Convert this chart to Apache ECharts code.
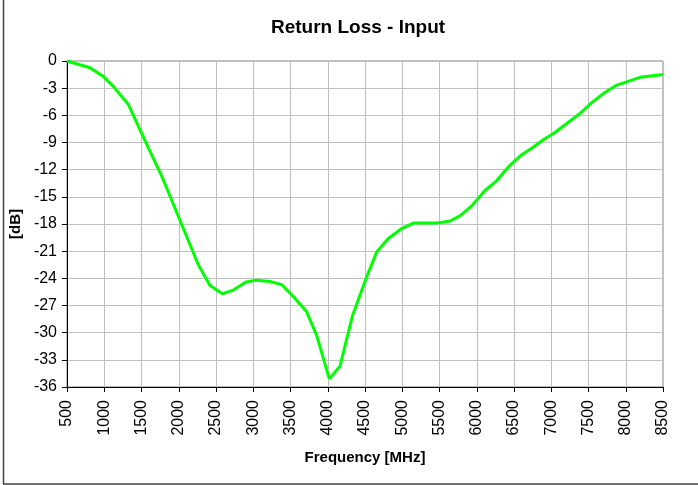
<!DOCTYPE html>
<html>
<head>
<meta charset="utf-8">
<script src="https://cdn.jsdelivr.net/npm/echarts@6/dist/echarts.min.js"></script>
<style>
  html, body { margin: 0; padding: 0; background: #fff; }
  #chart { width: 698px; height: 485px; }
</style>
</head>
<body>
<div id="chart"></div>
<script>
// frequency in MHz and return loss in dB
const freqMHz = [500, 809, 987, 1121, 1323, 1570, 1771, 2262, 2419, 2585, 2732, 2903, 3046, 3225, 3382,
    3537, 3717, 3851, 4021, 4164, 4333, 4524, 4657, 4813, 4993, 5148, 5462, 5631, 5775, 5932,
    6111, 6258, 6424, 6581, 6760, 6893, 7050, 7207, 7386, 7543, 7699, 7869, 8012, 8191, 8500];
const lossDb = [0, -0.75, -1.7, -2.8, -4.8, -9.2, -12.7, -22.5, -24.8, -25.7, -25.3, -24.4, -24.2, -24.35, -24.7,
    -26.0, -27.7, -30.3, -35.1, -33.7, -28.1, -23.8, -21.1, -19.6, -18.5, -17.9, -17.9, -17.7, -17.1, -16.0,
    -14.3, -13.3, -11.7, -10.5, -9.5, -8.7, -7.9, -6.9, -5.8, -4.6, -3.6, -2.7, -2.3, -1.8, -1.5];

const chart = echarts.init(document.getElementById('chart'));
const font = 'Liberation Sans, Arial, sans-serif';

const option = {
    animation: false,
    backgroundColor: '#fff',
    title: {
        text: 'Return Loss - Input',
        left: 353,
        textAlign: 'center',
        top: 13,
        textStyle: { fontFamily: font, fontSize: 19, fontWeight: 'bold', color: '#000' }
    },
    grid: {
        left: 67, right: 35, top: 61, bottom: 98,
        outerBoundsMode: 'none',
        containLabel: false,
        show: true,
        borderColor: '#808080',
        borderWidth: 1
    },
    xAxis: {
        type: 'value',
        min: 500,
        max: 8500,
        interval: 500,
        name: 'Frequency [MHz]',
        nameLocation: 'middle',
        nameGap: 63,
        nameTextStyle: { fontFamily: font, fontSize: 15, fontWeight: 'bold', color: '#000' },
        axisLine: { show: true, onZero: false, lineStyle: { color: '#000', width: 1 } },
        axisTick: { show: true, length: 5, lineStyle: { color: '#000' } },
        axisLabel: { rotate: 90, margin: 13, fontFamily: font, fontSize: 16, color: '#000',
            formatter: v => String(v) },
        splitLine: { show: true, lineStyle: { color: '#c0c0c0', width: 1 } }
    },
    yAxis: {
        type: 'value',
        min: -36,
        max: 0,
        interval: 3,
        name: '[dB]',
        nameLocation: 'middle',
        nameGap: 42,
        nameTextStyle: { fontFamily: font, fontSize: 15, fontWeight: 'bold', color: '#000' },
        axisLine: { show: true, onZero: false, lineStyle: { color: '#000', width: 1 } },
        axisTick: { show: true, length: 5, lineStyle: { color: '#000' } },
        axisLabel: { margin: 10, fontFamily: font, fontSize: 16, color: '#000' },
        splitLine: { show: true, lineStyle: { color: '#c0c0c0', width: 1 } }
    },
    series: [{
        type: 'line',
        data: freqMHz.map((f, i) => [f, lossDb[i]]),
        showSymbol: false,
        symbol: 'none',
        lineStyle: { color: '#00ff00', width: 3 }
    }],
    graphic: [
        { type: 'line', shape: { x1: 3.5, y1: 0, x2: 3.5, y2: 484 }, style: { stroke: '#404040', lineWidth: 1.5 } },
        { type: 'line', shape: { x1: 3, y1: 484, x2: 698, y2: 484 }, style: { stroke: '#404040', lineWidth: 1.5 } }
    ]
};

chart.setOption(option);
</script>
</body>
</html>
